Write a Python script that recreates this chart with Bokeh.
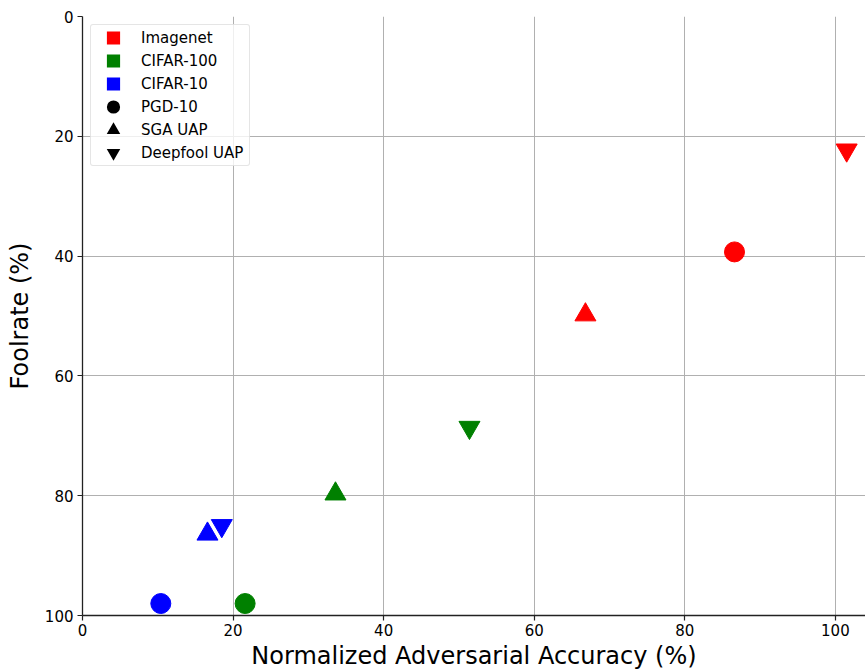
from bokeh.plotting import figure
from bokeh.models import Range1d, Legend, LegendItem, FixedTicker, ColumnDataSource
from bokeh.embed import file_html
from bokeh.resources import INLINE

# Data
datasets = ["Imagenet", "CIFAR-100", "CIFAR-10"]
dataset_colors = ["#ff0000", "#008000", "#0000ff"]
attacks = ["PGD-10", "SGA UAP", "Deepfool UAP"]
attack_markers = ["circle", "triangle", "inverted_triangle"]

# Normalized adversarial accuracy (%) per dataset, ordered as attacks
nat_acc = {
    "Imagenet": [86.6, 66.8, 101.5],
    "CIFAR-100": [21.6, 33.6, 51.4],
    "CIFAR-10": [10.4, 16.6, 18.5],
}
# Foolrate (%) per dataset, ordered as attacks
foolrate = {
    "Imagenet": [39.3, 49.8, 22.3],
    "CIFAR-100": [98.0, 79.7, 68.6],
    "CIFAR-10": [98.0, 86.4, 85.0],
}
x_ticks = [0, 20, 40, 60, 80, 100]
y_ticks = [0, 20, 40, 60, 80, 100]

FONT = "DejaVu Sans"
NAN = float("nan")

p = figure(width=865, height=672, output_backend="svg", toolbar_location=None,
           x_range=Range1d(0, 104.0), y_range=Range1d(100, 0),
           min_border_left=82, min_border_top=16, min_border_right=0, min_border_bottom=55)
p.outline_line_color = None

for ax in (p.xaxis[0], p.yaxis[0]):
    ax.axis_line_color = "#222222"
    ax.axis_line_width = 1.3
    ax.major_tick_line_color = "#222222"
    ax.major_tick_line_width = 1.2
    ax.major_tick_out = 5
    ax.major_tick_in = 0
    ax.minor_tick_line_color = None
    ax.major_label_text_font = FONT
    ax.major_label_text_font_size = "15px"
    ax.major_label_text_color = "black"
    ax.axis_label_text_font = FONT
    ax.axis_label_text_font_size = "24px"
    ax.axis_label_text_font_style = "normal"
    ax.axis_label_text_color = "black"

p.xaxis.ticker = FixedTicker(ticks=x_ticks)
p.yaxis.ticker = FixedTicker(ticks=y_ticks)
p.xaxis.axis_label = "Normalized Adversarial Accuracy (%)"
p.yaxis.axis_label = "Foolrate (%)"
p.xaxis.axis_label_standoff = 3
p.yaxis.axis_label_standoff = 8
p.xaxis.major_label_standoff = 3
p.yaxis.major_label_standoff = 4

p.xgrid.ticker = FixedTicker(ticks=x_ticks)
p.ygrid.ticker = FixedTicker(ticks=y_ticks)
p.grid.grid_line_color = "#b0b0b0"
p.grid.grid_line_width = 1

for ds, col in zip(datasets, dataset_colors):
    for i, (att, mk) in enumerate(zip(attacks, attack_markers)):
        size = 20 if mk == "circle" else 21
        src = ColumnDataSource(dict(x=[nat_acc[ds][i]], y=[foolrate[ds][i]]))
        p.scatter("x", "y", source=src, marker=mk, size=size, fill_color=col, line_color=col)

# Legend proxies (not drawn in the plot area); thick outlines enlarge the legend symbols
items = []
for ds, col in zip(datasets, dataset_colors):
    r = p.scatter([NAN], [NAN], marker="square", size=14, fill_color=col, line_color=col,
                  line_width=4, line_join="miter")
    items.append(LegendItem(label=ds, renderers=[r]))
for att, mk in zip(attacks, attack_markers):
    lw = 4 if mk == "circle" else 2.5
    r = p.scatter([NAN], [NAN], marker=mk, size=14, fill_color="black", line_color="black",
                  line_width=lw, line_join="miter")
    items.append(LegendItem(label=att, renderers=[r]))

legend = Legend(items=items, location="top_left")
legend.margin = 8
legend.padding = (1, 6, 1, 1)
legend.glyph_width = 42
legend.glyph_height = 23
legend.spacing = 0
legend.label_standoff = 7
legend.label_text_font = FONT
legend.label_text_font_size = "15px"
legend.label_text_color = "black"
legend.label_height = 18
legend.border_line_color = "#cccccc"
legend.border_line_width = 1
legend.border_radius = 3
legend.background_fill_alpha = 0.8
p.add_layout(legend)

open("out.html", "w").write(file_html(p, INLINE))
